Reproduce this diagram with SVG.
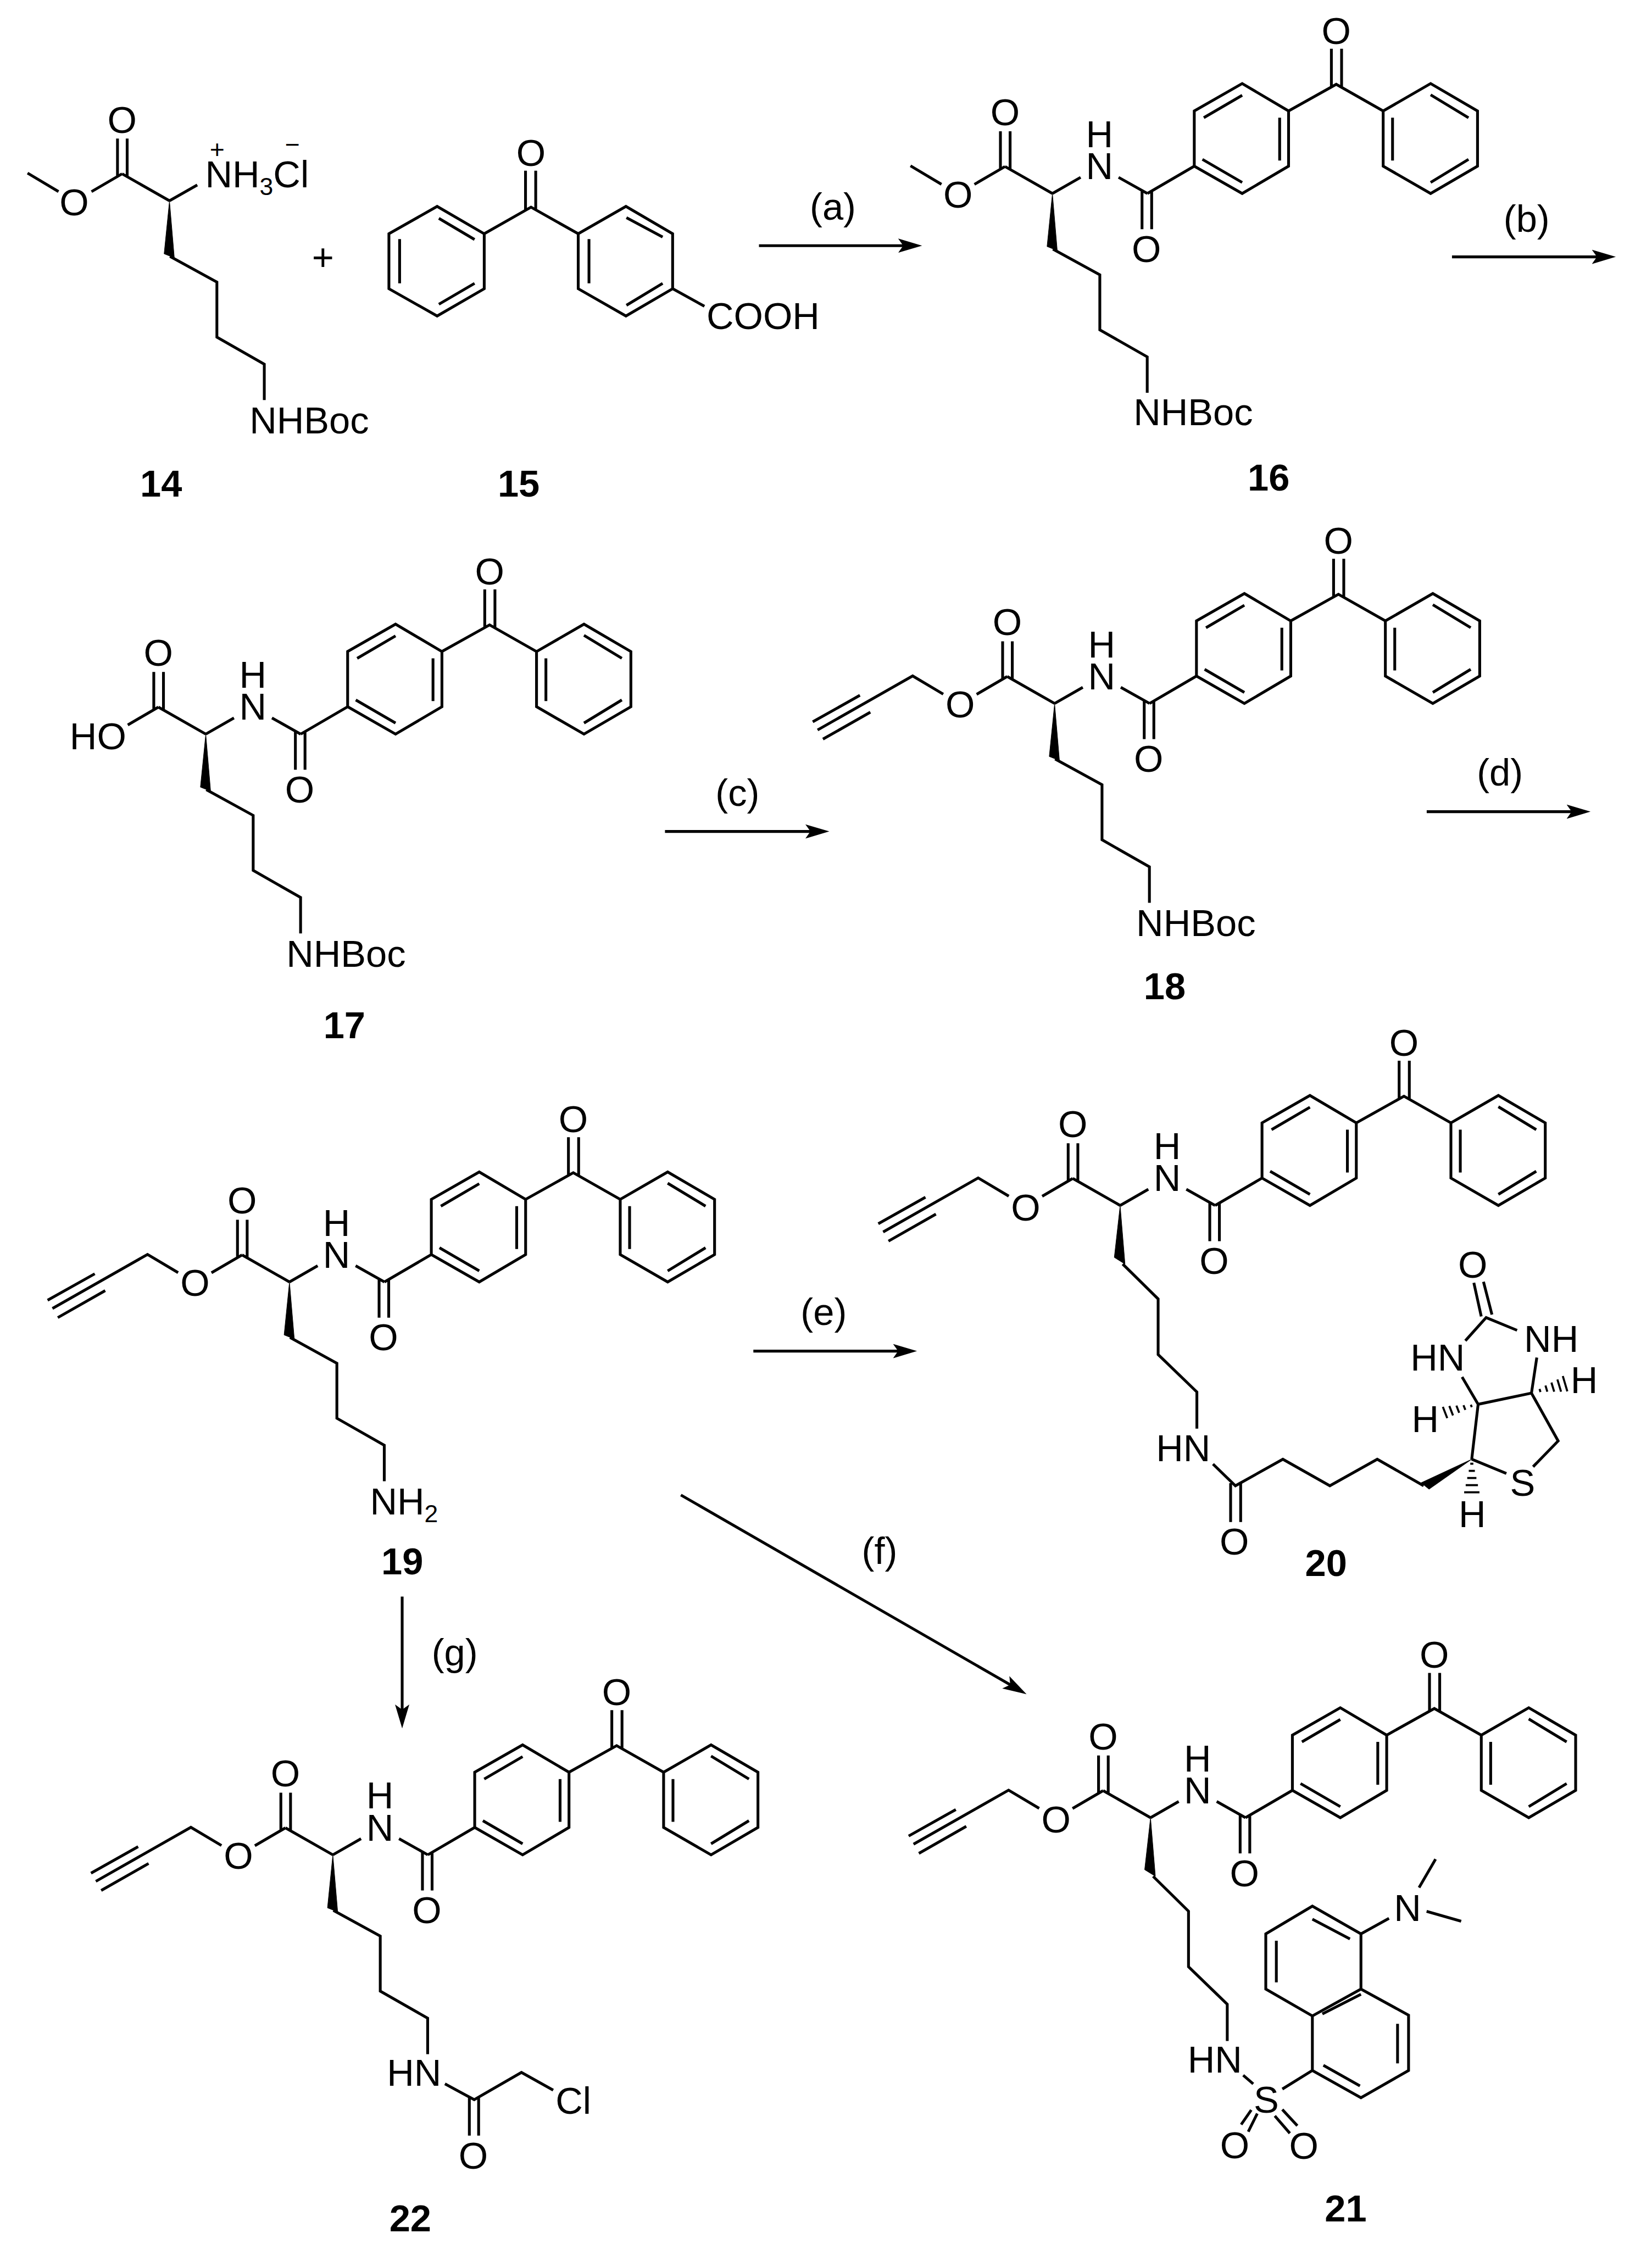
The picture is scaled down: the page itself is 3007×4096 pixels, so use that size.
<svg xmlns="http://www.w3.org/2000/svg" width="3007" height="4096" viewBox="0 0 3007 4096">
<style>
.b{fill:none;stroke:#000;stroke-width:5.5}
.w{fill:#000;stroke:#000;stroke-width:1}
.t{font-family:"Liberation Sans",Arial,sans-serif;font-size:74px;fill:#000}
.m{text-anchor:middle}
.n{font-family:"Liberation Sans",Arial,sans-serif;font-size:74px;font-weight:bold;fill:#000;text-anchor:middle}
.s{font-size:48px}
.c{font-size:50px;text-anchor:middle}
.a{fill:none;stroke:#000;stroke-width:5.5;marker-end:url(#head)}
</style>
<defs>
<marker id="head" markerUnits="userSpaceOnUse" markerWidth="48" markerHeight="30" refX="17" refY="15" orient="auto"><path d="M0,1 L47,15 L0,29 L10,15 Z" fill="#000"/></marker>
<path id="ester" d="M0,0 L-93,-53 M-102,-122 V-48 M-83,-122 V-47 M-153,-18 L-93,-53"/>
<path id="bp" d="M0,0 L55.3,-31.7 M129.8,-31.7 L186.3,0 M175.8,-6 V70 M194.7,-6 V70 M186.3,0 L278.3,-53.7 M278.3,-53.7 V-162 L372.3,-215.7 L463.3,-162 V-53.7 L372.3,0 Z M297,-148.7 L372.3,-192.7 M294.3,-67 L372.3,-21.7 M445.8,-148.7 V-64.7 M463.3,-162 L556.8,-214.3 L648.9,-162 M547.3,-284 V-208 M567.3,-284 V-208 M648.9,-53.7 V-162 L742,-215.7 L834,-162 V-53.7 L742,0 Z M742,-193.7 L816.3,-148.7 M667.3,-148.7 V-64.7 M742,-21.7 L816.3,-67"/>
<path id="chainA" d="M1,109 L93,159.5 V267.5 L186,320.5 V391"/>
<path id="chainB" d="M5,115 L74.5,183.5 V292.5 L150.5,366 V438"/>
<polygon id="wedgeA" points="0,0 -10.5,104 9.5,112"/>
<polygon id="wedgeB" points="0,0 -11.5,102 9.5,115"/>
<path id="methyl" d="M-217.7,-18.1 L-278.4,-54.3"/>
<path id="propargyl" d="M-218.5,-18.3 L-278.5,-54 L-465,52 M-474.5,36 L-382,-16 M-454.5,70 L-361.5,17"/>
</defs>
<g transform="scale(0.9278)">
<g id="connectors">
<line class="a" x1="1489" y1="482" x2="1779" y2="482"/>
<line class="a" x1="2848.6" y1="504" x2="3140" y2="504"/>
<line class="a" x1="1304.6" y1="1631.4" x2="1597" y2="1631.4"/>
<line class="a" x1="2799" y1="1592.6" x2="3090.4" y2="1592.6"/>
<line class="a" x1="1478" y1="2651" x2="1769" y2="2651"/>
<line class="a" x1="1335.8" y1="2933.4" x2="1988" y2="3309.2"/>
<line class="a" x1="789" y1="3132.6" x2="789" y2="3361.4"/>
<text class="t m" x="1634" y="431">(a)</text>
<text class="t m" x="2995" y="455">(b)</text>
<text class="t m" x="1446.8" y="1581">(c)</text>
<text class="t m" x="2942.6" y="1541">(d)</text>
<text class="t m" x="1616" y="2600">(e)</text>
<text class="t m" x="1725.6" y="3069">(f)</text>
<text class="t m" x="892" y="3268">(g)</text>
</g>
<g id="plus"><text class="t m" x="633.5" y="530">+</text></g>
<g id="compound-14" transform="translate(332.5,394)">
<use class="b" href="#ester"/><use class="b" href="#methyl"/><use class="w" href="#wedgeA"/><use class="b" href="#chainA"/>
<path class="b" d="M0,0 L54.5,-31"/>
<text class="t m" x="-93" y="-133">O</text><text class="t m" x="-187" y="28">O</text>
<text class="t" x="70" y="-26">NH<tspan class="s" dy="15">3</tspan><tspan dy="-15">Cl</tspan></text>
<text class="t c" x="93.5" y="-84">+</text><text class="t c" x="241" y="-93">−</text>
<text class="t" x="157" y="456">NHBoc</text>
</g>
<text id="label-14" class="n" x="316" y="974">14</text>
<g id="compound-15">
<path class="b" d="M950,458.7 L857.6,405 L763,458.7 V566.5 L857.6,620 L950,566.5 Z M861,428.5 L931,470 M784,469 V556 M861,597 L931,556 M950,458.7 L1041.8,406.5 L1134.4,458.7 M1031,335 V411 M1051,335 V411 M1134.4,458.7 L1228,405 L1319.6,458.7 V566.5 L1228,620 L1134.4,566.5 Z M1229,427 L1300,465 M1155.5,469 V556 M1229,599 L1300,556 M1319.6,566.5 L1382,601"/>
<text class="t m" x="1041.8" y="326">O</text>
<text class="t" x="1386" y="646">COOH</text>
</g>
<text id="label-15" class="n" x="1017.6" y="974">15</text>
<g id="compound-16" transform="translate(2064.7,379.7)">
<use class="b" href="#ester"/><use class="b" href="#bp"/><use class="b" href="#methyl"/><use class="w" href="#wedgeA"/><use class="b" href="#chainA"/>
<text class="t m" x="-93" y="-134">O</text><text class="t m" x="-185.3" y="27.3">O</text><text class="t m" x="92.3" y="-28">N</text><text class="t m" x="92.3" y="-90.7">H</text><text class="t m" x="184.3" y="134.3">O</text><text class="t m" x="556.8" y="-294">O</text>
<text class="t" x="159" y="455">NHBoc</text>
</g>
<text id="label-16" class="n" x="2489" y="963">16</text>
<g id="compound-17" transform="translate(403.7,1440.4)">
<use class="b" href="#ester"/><use class="b" href="#bp"/><use class="w" href="#wedgeA"/><use class="b" href="#chainA"/>
<text class="t m" x="-93" y="-134">O</text><text class="t" x="-267" y="29.4">HO</text><text class="t m" x="92.3" y="-28">N</text><text class="t m" x="92.3" y="-90.7">H</text><text class="t m" x="184.3" y="134.3">O</text><text class="t m" x="556.8" y="-294">O</text>
<text class="t" x="158" y="456.6">NHBoc</text>
</g>
<text id="label-17" class="n" x="675.6" y="2037.6">17</text>
<g id="compound-18" transform="translate(2069,1380.3)">
<use class="b" href="#ester"/><use class="b" href="#bp"/><use class="b" href="#propargyl"/><use class="w" href="#wedgeA"/><use class="b" href="#chainA"/>
<text class="t m" x="-93" y="-134">O</text><text class="t m" x="-185.3" y="27.3">O</text><text class="t m" x="92.3" y="-28">N</text><text class="t m" x="92.3" y="-90.7">H</text><text class="t m" x="184.3" y="134.3">O</text><text class="t m" x="556.8" y="-294">O</text>
<text class="t" x="160" y="456.7">NHBoc</text>
</g>
<text id="label-18" class="n" x="2284.9" y="1961">18</text>
<g id="compound-19" transform="translate(567.9,2515.3)">
<use class="b" href="#ester"/><use class="b" href="#bp"/><use class="b" href="#propargyl"/><use class="w" href="#wedgeA"/><use class="b" href="#chainA"/>
<text class="t m" x="-93" y="-134">O</text><text class="t m" x="-185.3" y="27.3">O</text><text class="t m" x="92.3" y="-28">N</text><text class="t m" x="92.3" y="-90.7">H</text><text class="t m" x="184.3" y="134.3">O</text><text class="t m" x="556.8" y="-294">O</text>
<text class="t" x="158" y="456.7">NH<tspan class="s" dy="15">2</tspan></text>
</g>
<text id="label-19" class="n" x="789.3" y="3089">19</text>
<g id="compound-20">
<g transform="translate(2197.6,2365.2)">
<use class="b" href="#ester"/><use class="b" href="#bp"/><use class="b" href="#propargyl"/><use class="w" href="#wedgeB"/><use class="b" href="#chainB"/>
<text class="t m" x="-93" y="-134">O</text><text class="t m" x="-185.3" y="29.4">O</text><text class="t m" x="92.3" y="-28">N</text><text class="t m" x="92.3" y="-90.7">H</text><text class="t m" x="184.3" y="134.3">O</text><text class="t m" x="556.8" y="-294">O</text>
</g>
<path class="b" d="M2379.7,2872.7 L2423.7,2915.3 L2516.8,2863.2 L2609,2915.3 L2702,2863.2 L2793,2915.3 M2414.3,2910 V2986.5 M2434,2910 V2986.5 M2887.3,2863.2 L2955.3,2891 M3007.7,2877.9 L3056.9,2827.3 L3004.5,2733.4 L2899.9,2755.4 L2887.3,2863.2 M2899.9,2755.4 L2868.4,2701.9 M2874.8,2630.7 L2915.6,2585.3 L2976.3,2610.2 M3004.5,2733.4 L3015,2663.7 M2891.5,2517 L2906,2583 M2910.4,2514.9 L2927,2579.4"/>
<polygon class="w" points="2887.3,2863.2 2788,2909.4 2803.6,2922"/>
<path class="b" style="stroke-width:4" d="M3020.4,2725.3 L3022.2,2731.3 M3032,2718.6 L3035.6,2730.6 M3043.7,2712.7 L3049.1,2730.7 M3055.4,2706.7 L3062.6,2730.7 M3066,2700 L3074.9,2730 M2885.6,2756.3 L2887.4,2760.9 M2871.2,2757.2 L2874.8,2766.4 M2857.3,2758 L2862.7,2772 M2843.4,2758.7 L2850.6,2777.3 M2830.7,2760.4 L2839.3,2782.6 M2884.5,2872 H2890.5 M2881.5,2886 H2893.5 M2878.5,2900 H2896.5 M2875.5,2914 H2899.5 M2872.5,2928 H2902.5"/>
<text class="t" x="2268" y="2867">HN</text>
<text class="t m" x="2421.6" y="3050">O</text>
<text class="t m" x="2987" y="2935">S</text>
<text class="t" x="2767" y="2689.4">HN</text>
<text class="t" x="2990" y="2652.7">NH</text>
<text class="t m" x="2889.4" y="2507.5">O</text>
<text class="t m" x="3108" y="2733.4">H</text>
<text class="t m" x="2796.3" y="2810.4">H</text>
<text class="t m" x="2888.4" y="2996">H</text>
</g>
<text id="label-20" class="n" x="2601.6" y="3092.8">20</text>
<g id="compound-21">
<g transform="translate(2257.2,3566.5)">
<use class="b" href="#ester"/><use class="b" href="#bp"/><use class="b" href="#propargyl"/><use class="w" href="#wedgeB"/><use class="b" href="#chainB"/>
<text class="t m" x="-93" y="-134">O</text><text class="t m" x="-185.3" y="29.4">O</text><text class="t m" x="92.3" y="-28">N</text><text class="t m" x="92.3" y="-90.7">H</text><text class="t m" x="184.3" y="134.3">O</text><text class="t m" x="556.8" y="-294">O</text>
</g>
<path class="b" d="M2439,4071.8 L2458.7,4088.8 M2515.8,4098.9 L2574.7,4062.5 M2454.8,4140 L2435,4168.6 M2466.6,4147 L2448.9,4182.6 M2515.7,4139 L2545.2,4171 M2501,4151.6 L2530.5,4185.7 M2574.7,3740 L2670,3794.4 V3902.8 L2574.7,3955.5 L2483.3,3902.8 V3794.4 Z M2670,3902.8 L2763.4,3954 V4062.5 L2670,4116 L2574.7,4062.5 V3955.5 M2574.7,3765.7 L2648.4,3804.4 M2504,3808 V3889.7 M2594.3,3951.6 L2670,3913 M2741.8,3971 V4048.5 M2596.3,4052.4 L2668,4092.7 M2670,3794.4 L2725,3764 M2784,3703.7 L2816.4,3647.9 M2798.8,3750.2 L2866.6,3769.6"/>
<text class="t" x="2330" y="4066.3">HN</text>
<text class="t m" x="2484.3" y="4145.4">S</text>
<text class="t m" x="2422.4" y="4234.5">O</text>
<text class="t m" x="2558" y="4236">O</text>
<text class="t m" x="2761.4" y="3769.6">N</text>
</g>
<text id="label-21" class="n" x="2640" y="4358.5">21</text>
<g id="compound-22">
<g transform="translate(653,3639.4)">
<use class="b" href="#ester"/><use class="b" href="#bp"/><use class="b" href="#propargyl"/><use class="w" href="#wedgeA"/><use class="b" href="#chainA"/>
<text class="t m" x="-93" y="-134">O</text><text class="t m" x="-185.3" y="27.3">O</text><text class="t m" x="92.3" y="-28">N</text><text class="t m" x="92.3" y="-90.7">H</text><text class="t m" x="184.3" y="134.3">O</text><text class="t m" x="556.8" y="-294">O</text>
</g>
<path class="b" d="M872.9,4088.8 L930.3,4119.8 L1023,4066.3 L1085.3,4101.2 M920.8,4114 V4190.3 M939,4114 V4190.3"/>
<text class="t" x="759" y="4092.7">HN</text>
<text class="t m" x="928.4" y="4255">O</text>
<text class="t" x="1090" y="4147">Cl</text>
</g>
<text id="label-22" class="n" x="805" y="4377.8">22</text>
</g>
</svg>
